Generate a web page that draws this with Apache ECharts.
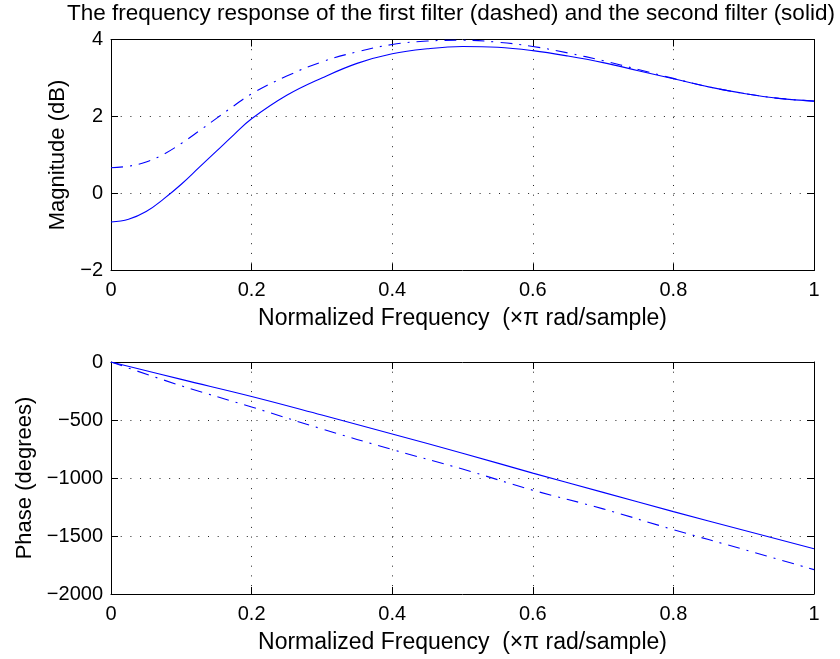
<!DOCTYPE html>
<html>
<head>
<meta charset="utf-8">
<script src="https://cdn.jsdelivr.net/npm/echarts@6/dist/echarts.min.js"></script>
<style>
  html, body { margin: 0; padding: 0; background: #fff; }
  #chart { width: 840px; height: 659px; }
</style>
</head>
<body>
<div id="chart"></div>
<script>
// normalized frequency (x pi rad/sample)
const magFreq = [0, 0.025, 0.05, 0.075, 0.1, 0.125, 0.15, 0.175, 0.2, 0.25, 0.3, 0.35, 0.4, 0.45, 0.5,
                 0.55, 0.6, 0.65, 0.7, 0.75, 0.8, 0.85, 0.9, 0.95, 1.0];
// magnitude in dB, first filter (dashed) and second filter (solid)
const magDashed = [0.67, 0.71, 0.82, 1.02, 1.30, 1.62, 1.95, 2.28, 2.59, 3.05, 3.42, 3.68, 3.87, 3.96, 3.98,
                   3.93, 3.82, 3.65, 3.45, 3.22, 2.99, 2.77, 2.60, 2.47, 2.40];
const magSolid = [-0.74, -0.67, -0.47, -0.14, 0.24, 0.67, 1.10, 1.53, 1.94, 2.55, 3.00, 3.38, 3.63, 3.76, 3.82,
                  3.80, 3.71, 3.57, 3.40, 3.19, 2.98, 2.77, 2.60, 2.47, 2.40];

const phaseFreq = [0, 0.1, 0.2, 0.3, 0.4, 0.5, 0.6, 0.7, 0.8, 0.9, 1.0];
// phase in degrees
const phaseDashed = [0, -205, -388, -577, -755, -923, -1105, -1266, -1445, -1616, -1790];
const phaseSolid = [0, -150, -297, -457, -620, -786, -958, -1124, -1290, -1450, -1610];

const freqTicks = ['0', '0.2', '0.4', '0.6', '0.8', '1'];

const titleText = 'The frequency response of the first filter (dashed) and the second filter (solid)';
const xName = 'Normalized Frequency  (\u00d7\u03c0 rad/sample)';

const pair = (xs, ys) => xs.map((x, i) => [x, ys[i]]);
const minus = (v) => String(v).replace('-', '\u2212');

const font = 'Liberation Sans, Arial, sans-serif';
const blue = '#0000ff';
const dotted = { color: '#222', width: 1, type: [1, 8.7] };
const tickSize = 20;
const nameSize = 22;

function mainX(gridIndex) {
    return {
        type: 'value', gridIndex, min: 0, max: 1, interval: 0.2, position: 'bottom',
        axisLine: { show: true, onZero: false, lineStyle: { color: '#000', width: 1 } },
        axisTick: { show: true, inside: true, length: 7, lineStyle: { color: '#000' } },
        axisLabel: {
            color: '#000', fontFamily: font, fontSize: tickSize, margin: 10,
            formatter: (v) => freqTicks[Math.round(v / 0.2)]
        },
        splitLine: { show: true, lineStyle: dotted },
        name: xName, nameLocation: 'middle', nameGap: 37,
        nameTextStyle: { color: '#000', fontFamily: font, fontSize: 23 }
    };
}
function boxX(gridIndex) {
    return {
        type: 'value', gridIndex, min: 0, max: 1, interval: 0.2, position: 'top',
        axisLine: { show: true, onZero: false, lineStyle: { color: '#000', width: 1 } },
        axisTick: { show: true, inside: true, length: 7, lineStyle: { color: '#000' } },
        axisLabel: { show: false }, splitLine: { show: false }
    };
}
function mainY(gridIndex, min, max, interval, name, gap) {
    return {
        type: 'value', gridIndex, min, max, interval, position: 'left',
        axisLine: { show: true, onZero: false, lineStyle: { color: '#000', width: 1 } },
        axisTick: { show: true, inside: true, length: 7, lineStyle: { color: '#000' } },
        axisLabel: { color: '#000', fontFamily: font, fontSize: tickSize, margin: 8, formatter: minus },
        splitLine: { show: true, lineStyle: dotted },
        name, nameLocation: 'middle', nameGap: gap, nameRotate: 90,
        nameTextStyle: { color: '#000', fontFamily: font, fontSize: nameSize }
    };
}
function boxY(gridIndex, min, max, interval) {
    return {
        type: 'value', gridIndex, min, max, interval, position: 'right',
        axisLine: { show: true, onZero: false, lineStyle: { color: '#000', width: 1 } },
        axisTick: { show: true, inside: true, length: 7, lineStyle: { color: '#000' } },
        axisLabel: { show: false }, splitLine: { show: false }
    };
}
function line(xIdx, yIdx, data, dashed) {
    return {
        type: 'line', xAxisIndex: xIdx, yAxisIndex: yIdx, data,
        showSymbol: false, smooth: 0.4, silent: true,
        lineStyle: { color: blue, width: 1.1, type: dashed ? [12, 7, 2, 7] : 'solid' }
    };
}

const chart = echarts.init(document.getElementById('chart'), null, { renderer: 'canvas' });
chart.setOption({
    animation: false,
    backgroundColor: '#fff',
    title: {
        text: titleText, left: 62, top: -3,
        textStyle: { color: '#000', fontFamily: font, fontSize: 22.5, fontWeight: 'normal' }
    },
    grid: [
        { left: 111, top: 39.5, width: 703, height: 231 },
        { left: 111, top: 362, width: 703, height: 232 }
    ],
    xAxis: [mainX(0), boxX(0), mainX(1), boxX(1)],
    yAxis: [
        mainY(0, -2, 4, 2, 'Magnitude (dB)', 33),
        boxY(0, -2, 4, 2),
        mainY(1, -2000, 0, 500, 'Phase (degrees)', 60),
        boxY(1, -2000, 0, 500)
    ],
    series: [
        line(0, 0, pair(magFreq, magDashed), true),
        line(0, 0, pair(magFreq, magSolid), false),
        line(2, 2, pair(phaseFreq, phaseDashed), true),
        line(2, 2, pair(phaseFreq, phaseSolid), false)
    ]
});
</script>
</body>
</html>
